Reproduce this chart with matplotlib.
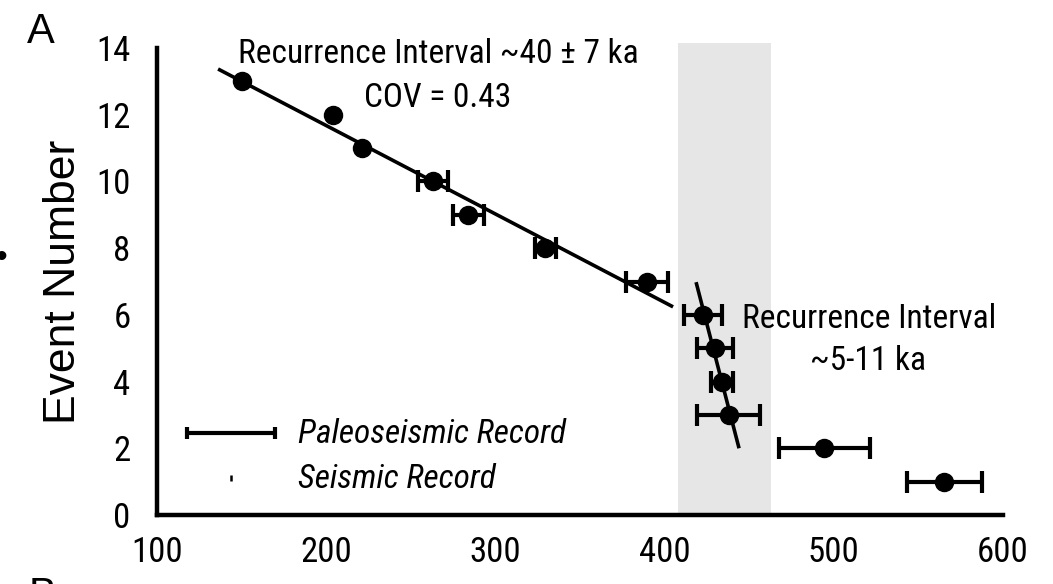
import numpy as np
import matplotlib
matplotlib.use('Agg')
import matplotlib.pyplot as plt
from matplotlib import font_manager

# Datos
event = [13, 12, 11, 10, 9, 8, 7, 6, 5, 4, 3, 2, 1]
age_ka = [150.2, 204, 221.2, 263.1, 284.1, 329.6, 389.6, 422.7, 429.8, 434.2, 437.8, 494.5, 565.4]
age_err = [0, 0, 0, 9, 9.2, 6.2, 12.4, 11, 10.6, 6.5, 18.5, 27, 22]

# Ajustes lineales (extremos)
fit_old_x = [136.1, 405.0]
fit_old_y = [13.37, 6.24]
fit_young_x = [418.6, 444.0]
fit_young_y = [6.98, 2.0]

# Banda gris
band = [408, 463]

xticks = [100, 200, 300, 400, 500, 600]
yticks = [0, 2, 4, 6, 8, 10, 12, 14]

# Buscar una fuente estrecha tipo Arial Narrow
names = {f.name for f in font_manager.fontManager.ttflist}
candidates = ['Liberation Sans Narrow', 'Arial Narrow', 'Roboto Condensed', 'Archivo Narrow',
              'Pragati Narrow', 'PT Sans Narrow']
narrow = 'DejaVu Sans'
for c in candidates:
    if c in names:
        narrow = c
        break
regular = 'Liberation Sans'

fig = plt.figure(figsize=(10.53, 5.84), dpi=100)
ax = fig.add_axes([157/1053, 1 - 515/584, 846/1053, 467/584])

ax.axvspan(band[0], band[1], ymin=0, ymax=1.011, color='#e6e6e6', lw=0, clip_on=False, zorder=0)

ax.plot(fit_old_x, fit_old_y, color='black', lw=2.6, zorder=2, solid_capstyle='butt')
ax.plot(fit_young_x, fit_young_y, color='black', lw=2.6, zorder=2, solid_capstyle='butt')

# Barras de error solo donde hay incertidumbre
x = np.array(age_ka)
y = np.array(event)
e = np.array(age_err)
m = e > 0
ax.errorbar(x[m], y[m], xerr=e[m], fmt='none', ecolor='black',
            elinewidth=3, capsize=8, capthick=3, zorder=3)
ax.plot(x, y, 'o', color='black', ms=13, zorder=4)

ax.set_xlim(100, 600)
ax.set_ylim(0, 14)
ax.set_xticks(xticks)
ax.set_yticks(yticks)
ax.tick_params(length=0, labelsize=25)
ax.tick_params(axis='x', pad=15)
ax.tick_params(axis='y', pad=19)
for lab in ax.get_xticklabels() + ax.get_yticklabels():
    lab.set_fontfamily(narrow)

for s in ['top', 'right']:
    ax.spines[s].set_visible(False)
for s in ['left', 'bottom']:
    ax.spines[s].set_linewidth(3.2)

ax.set_ylabel('Event Number', fontsize=32, fontfamily=regular, va='center')
ax.yaxis.set_label_coords(-0.111, 0.5)

# Textos
ax.text(266, 13.55, 'Recurrence Interval ~40 ± 7 ka', ha='center', va='baseline',
        fontsize=24, fontfamily=narrow)
ax.text(266, 12.23, 'COV = 0.43', ha='center', va='baseline', fontsize=24, fontfamily=narrow)
ax.text(520.8, 5.6, 'Recurrence Interval', ha='center', va='baseline', fontsize=24,
        fontfamily=narrow)
ax.text(520.2, 4.35, '~5-11 ka', ha='center', va='baseline', fontsize=24, fontfamily=narrow)

# Leyenda dibujada a mano
ax.plot([0.0355, 0.1395], [0.1756, 0.1756], color='black', lw=3, transform=ax.transAxes,
        solid_capstyle='butt')
ax.plot([0.0355, 0.1395], [0.1756, 0.1756], ls='none', marker='|', ms=9, mew=3,
        color='black', transform=ax.transAxes)
ax.plot([0.0875], [0.079], ls='none', marker='|', ms=5, mew=1.8, color='black',
        transform=ax.transAxes)
ax.text(0.1667, 0.154, 'Paleoseismic Record', transform=ax.transAxes, va='baseline',
        fontsize=24, fontstyle='italic', fontfamily=narrow)
ax.text(0.1667, 0.058, 'Seismic Record', transform=ax.transAxes, va='baseline',
        fontsize=24, fontstyle='italic', fontfamily=narrow)

# Etiquetas de panel
fig.text(27/1053, 1 - 43/584, 'A', fontsize=30, fontfamily=regular, va='baseline')
fig.text(29/1053, 1 - 576/584, 'B', fontsize=30, fontfamily=regular, va='top')
fig.text(-0.004, 1 - 258/584, '•', fontsize=24, fontfamily=regular, va='center')

fig.savefig('out.png', dpi=100)
